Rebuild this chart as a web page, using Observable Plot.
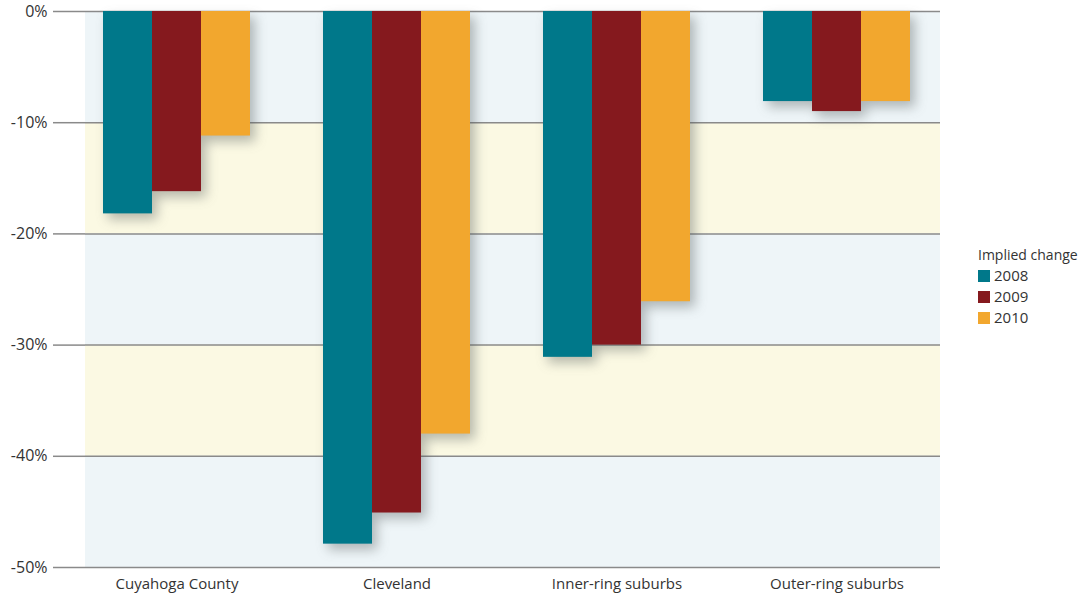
<!DOCTYPE html>
<html>
<head>
<meta charset="utf-8">
<script src="https://cdn.jsdelivr.net/npm/d3@7"></script>
<script src="https://cdn.jsdelivr.net/npm/@observablehq/plot@0.6"></script>
<style>
  html, body { margin: 0; padding: 0; background: #ffffff; }
  #wrap { position: relative; width: 1083px; height: 598px; font-family: "Open Sans", sans-serif; color: #333; }
  #wrap svg { position: absolute; left: 0; top: 0; }
  #legend { position: absolute; left: 978px; top: 245px; font-family: "Open Sans", sans-serif; color: #333; }
  #legend .title { font-size: 14px; line-height: 20px; margin-bottom: 0px; }
  #legend .item { display: flex; align-items: center; font-size: 15px; line-height: 21px; }
  #legend .sw { width: 12px; height: 12px; margin-right: 4px; }
</style>
</head>
<body>
<div id="wrap"><div id="legend"></div></div>
<script>
const categories = ["Cuyahoga County", "Cleveland", "Inner-ring suburbs", "Outer-ring suburbs"];
const years = ["2008", "2009", "2010"];
const values2008 = [-18.2, -47.9, -31.1, -8.1];
const values2009 = [-16.2, -45.1, -30.0, -9.0];
const values2010 = [-11.2, -38.0, -26.1, -8.1];
const yearColors = ["#00788a", "#85191e", "#f2a72e"];
const yTicks = [0, -10, -20, -30, -40, -50];
const legendTitle = "Implied change";

const series = [values2008, values2009, values2010];
const rows = [];
years.forEach((yr, i) => categories.forEach((c, j) => rows.push({category: c, year: yr, value: series[i][j]})));

const bands = [];
for (let i = 0; i < yTicks.length - 1; i++) bands.push({y1: yTicks[i], y2: yTicks[i + 1], even: i % 2 === 0});

const common = {
  width: 1083,
  height: 598,
  marginTop: 11,
  marginBottom: 31,
  marginLeft: 85,
  marginRight: 143,
  style: {fontFamily: "Open Sans, sans-serif", fontSize: "15px", color: "#333", background: "transparent", overflow: "visible"}
};
const groupScale = {type: "band", domain: categories, range: [101, 912], paddingInner: 0.325, paddingOuter: 0};

// Background layer: bands, gridlines, axes
const back = Plot.plot({
  ...common,
  x: {...groupScale, label: null, axis: null},
  y: {domain: [-50, 0], axis: null},
  marks: [
    Plot.rectY(bands.filter(d => d.even), {y1: "y1", y2: "y2", fill: "#eef5f8"}),
    Plot.rectY(bands.filter(d => !d.even), {y1: "y1", y2: "y2", fill: "#fbf9e3"}),
    Plot.ruleY(yTicks, {stroke: "#8a8a8a", strokeWidth: 1.5}),
    Plot.axisY({ticks: yTicks, tickFormat: d => d + "%", tickSize: 32, tickPadding: 6, label: null, stroke: "#8a8a8a", strokeWidth: 1.5, fill: "#333", fontSize: 16}),
    Plot.axisX({anchor: "bottom", tickSize: 0, tickPadding: 11, label: null, fill: "#333", fontSize: 15})
  ]
});

// Bar layer: grouped bars faceted by category
const front = Plot.plot({
  ...common,
  fx: {...groupScale, label: null, axis: null},
  x: {domain: years, padding: 0, axis: null},
  y: {domain: [-50, 0], axis: null},
  color: {domain: years, range: yearColors},
  marks: [
    Plot.barY(rows, {fx: "category", x: "year", y: "value", fill: "year"})
  ]
});

const wrap = document.getElementById("wrap");
wrap.insertBefore(front, wrap.firstChild);
wrap.insertBefore(back, wrap.firstChild);

front.querySelectorAll('g[aria-label="bar"]').forEach(g => {
  g.style.filter = "drop-shadow(5px 6px 6px rgba(70,80,80,0.38))";
});

const legend = document.getElementById("legend");
const t = document.createElement("div");
t.className = "title";
t.textContent = legendTitle;
legend.appendChild(t);
years.forEach((yr, i) => {
  const it = document.createElement("div");
  it.className = "item";
  const sw = document.createElement("div");
  sw.className = "sw";
  sw.style.background = yearColors[i];
  const lb = document.createElement("span");
  lb.textContent = yr;
  it.appendChild(sw);
  it.appendChild(lb);
  legend.appendChild(it);
});
</script>
</body>
</html>
